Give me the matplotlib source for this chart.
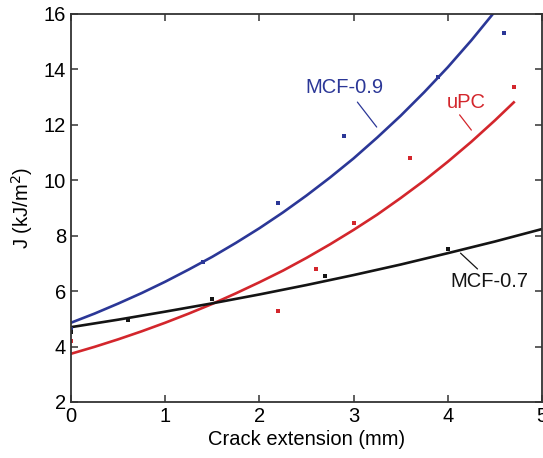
import matplotlib
matplotlib.use('Agg')
import matplotlib.pyplot as plt

plt.rcParams['font.family'] = ['Liberation Sans', 'DejaVu Sans']

# fitted curves
x_fit_09 = [0, 0.25, 0.5, 0.75, 1.0, 1.25, 1.5, 1.75, 2.0, 2.25, 2.5, 2.75,
            3.0, 3.25, 3.5, 3.75, 4.0, 4.25, 4.5]
J_fit_09 = [4.86, 5.19, 5.55, 5.93, 6.34, 6.78, 7.24, 7.74, 8.27, 8.84, 9.45,
            10.10, 10.79, 11.54, 12.33, 13.18, 14.08, 15.05, 16.09]

x_fit_upc = [0, 0.25, 0.5, 0.75, 1.0, 1.25, 1.5, 1.75, 2.0, 2.25, 2.5, 2.75,
             3.0, 3.25, 3.5, 3.75, 4.0, 4.25, 4.5, 4.7]
J_fit_upc = [3.74, 3.99, 4.26, 4.55, 4.86, 5.19, 5.54, 5.92, 6.32, 6.74, 7.20,
             7.69, 8.21, 8.76, 9.36, 9.99, 10.67, 11.39, 12.16, 12.81]

x_fit_07 = [0, 0.5, 1.0, 1.5, 2.0, 2.5, 3.0, 3.5, 4.0, 4.5, 5.0]
J_fit_07 = [4.70, 4.97, 5.26, 5.56, 5.88, 6.22, 6.58, 6.96, 7.37, 7.79, 8.24]

# measured points
x_pts_09 = [0, 1.4, 2.2, 2.9, 3.9, 4.6]
J_pts_09 = [4.62, 7.05, 9.17, 11.6, 13.73, 15.3]
x_pts_upc = [0, 2.2, 2.6, 3.0, 3.6, 4.7]
J_pts_upc = [4.21, 5.28, 6.8, 8.46, 10.8, 13.37]
x_pts_07 = [0, 0.6, 1.5, 2.7, 4.0]
J_pts_07 = [4.52, 4.97, 5.7, 6.54, 7.52]

blue = '#2b3797'
red = '#d3262c'
black = '#141414'

fig = plt.figure(figsize=(5.43, 4.58), dpi=100)
ax = fig.add_axes([0.1308, 0.1223, 0.8674, 0.8472])

ax.plot(x_fit_09, J_fit_09, color=blue, lw=1.9)
ax.plot(x_fit_upc, J_fit_upc, color=red, lw=1.9)
ax.plot(x_fit_07, J_fit_07, color=black, lw=1.9)
ax.plot(x_pts_09, J_pts_09, 's', color=blue, ms=2.2, mew=0)
ax.plot(x_pts_upc, J_pts_upc, 's', color=red, ms=2.2, mew=0)
ax.plot(x_pts_07, J_pts_07, 's', color=black, ms=2.2, mew=0)

# labels with pointer lines
ax.text(2.9, 13.33, 'MCF-0.9', color=blue, fontsize=14.5, ha='center', va='center')
ax.annotate('', xy=(3.245, 11.92), xytext=(3.04, 12.82),
            arrowprops=dict(arrowstyle='-', lw=0.9, color=blue, shrinkA=0, shrinkB=0))
ax.text(4.2, 12.79, 'uPC', color=red, fontsize=14.5, ha='center', va='center')
ax.annotate('', xy=(4.25, 11.81), xytext=(4.125, 12.36),
            arrowprops=dict(arrowstyle='-', lw=0.9, color=red, shrinkA=0, shrinkB=0))
ax.text(4.44, 6.33, 'MCF-0.7', color=black, fontsize=14.5, ha='center', va='center')
ax.annotate('', xy=(4.315, 6.80), xytext=(4.135, 7.37),
            arrowprops=dict(arrowstyle='-', lw=0.9, color=black, shrinkA=0, shrinkB=0))

ax.set_xlim(0, 5)
ax.set_ylim(2, 16)
ax.set_xticks([0, 1, 2, 3, 4, 5])
ax.set_yticks([2, 4, 6, 8, 10, 12, 14, 16])
ax.tick_params(direction='in', top=True, right=True, length=5, width=1.1,
               labelsize=14.5, color='#333333')
for s in ax.spines.values():
    s.set_linewidth(1.3)
    s.set_color('#333333')

ax.set_xlabel('Crack extension (mm)', fontsize=14.5, labelpad=3)
ax.set_ylabel('J (kJ/m$^2$)', fontsize=14.5, labelpad=6)

fig.savefig('out.png', dpi=100)
